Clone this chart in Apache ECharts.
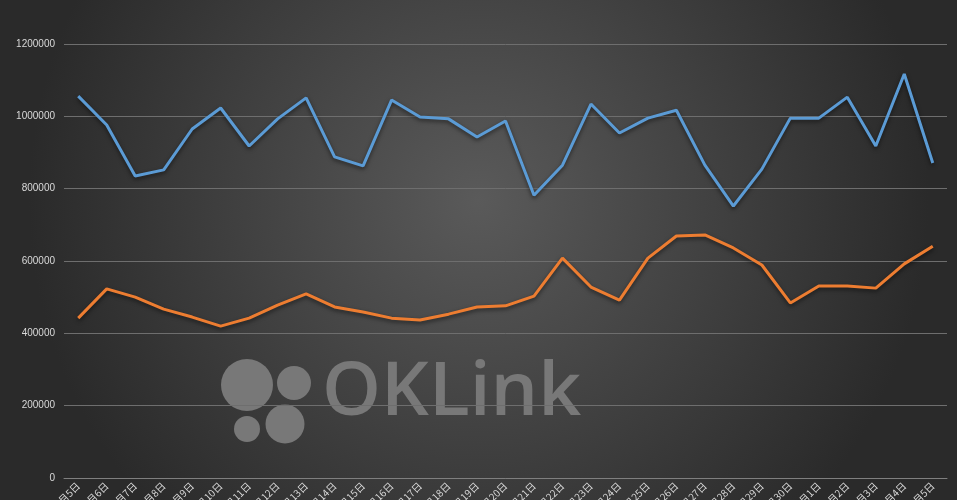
<!DOCTYPE html>
<html><head><meta charset="utf-8">
<script src="https://cdn.jsdelivr.net/npm/echarts@6/dist/echarts.min.js"></script>
<style>html,body{margin:0;padding:0;background:#333}#c{width:957px;height:500px}</style>
</head><body><div id="c"></div>
<script>
const categories = ["11月5日","11月6日","11月7日","11月8日","11月9日","11月10日","11月11日","11月12日","11月13日","11月14日","11月15日","11月16日","11月17日","11月18日","11月19日","11月20日","11月21日","11月22日","11月23日","11月24日","11月25日","11月26日","11月27日","11月28日","11月29日","11月30日","12月1日","12月2日","12月3日","12月4日","12月5日"];
const seriesBlue = [1056000,976000,835000,852000,965000,1023000,918000,993000,1051000,888000,863000,1045000,998000,993000,943000,987000,782000,865000,1034000,954000,995000,1017000,865000,752000,854000,995000,995000,1053000,918000,1117000,871000];
const seriesOrange = [442000,523000,500000,467000,445000,420000,442000,478000,509000,473000,459000,442000,437000,453000,473000,476000,503000,608000,528000,492000,608000,669000,672000,636000,589000,484000,531000,531000,525000,592000,641000];
const yTicks = [0,200000,400000,600000,800000,1000000,1200000];

const chart = echarts.init(document.getElementById('c'));
const lineShadow = {shadowColor:'rgba(0,0,0,0.55)', shadowBlur:4, shadowOffsetY:2};
chart.setOption({
  animation:false,
  backgroundColor:{type:'radial',x:0.5,y:0.4,r:0.9,colorStops:[{offset:0,color:'#5a5a5a'},{offset:1,color:'#2a2a2a'}]},
  grid:{left:64,right:10,top:44,bottom:22,containLabel:false,outerBoundsMode:'none'},
  xAxis:{type:'category',data:categories,boundaryGap:true,
    axisLine:{lineStyle:{color:'#7f7f7f',width:1}},
    axisTick:{show:false},
    axisLabel:{color:'#d9d9d9',fontSize:10,rotate:45,interval:0,margin:6,fontFamily:'Noto Sans CJK SC'}},
  yAxis:{type:'value',min:yTicks[0],max:yTicks[yTicks.length-1],interval:200000,
    axisLine:{show:false},axisTick:{show:false},
    axisLabel:{color:'#d9d9d9',fontSize:10,margin:9,fontFamily:'Liberation Sans',formatter:function(v){return String(v);}},
    splitLine:{lineStyle:{color:'#6e6e6e',width:1}}},
  graphic:[
    {type:'group',silent:true,z:0,children:[
      {type:'circle',shape:{cx:247,cy:385,r:26},style:{fill:'#787878'}},
      {type:'circle',shape:{cx:294,cy:383,r:17},style:{fill:'#787878'}},
      {type:'circle',shape:{cx:247,cy:429,r:13},style:{fill:'#787878'}},
      {type:'circle',shape:{cx:285,cy:424,r:19.5},style:{fill:'#787878'}},
      {type:'text',left:322,top:356,style:{text:'OKLink',fill:'#787878',font:'600 75px "Open Sans"'}}
    ]}
  ],
  series:[
    {type:'line',data:seriesBlue,symbol:'none',z:3,lineStyle:Object.assign({color:'#5b9bd5',width:3},lineShadow)},
    {type:'line',data:seriesOrange,symbol:'none',z:3,lineStyle:Object.assign({color:'#ed7d31',width:3},lineShadow)}
  ]
});
</script></body></html>
